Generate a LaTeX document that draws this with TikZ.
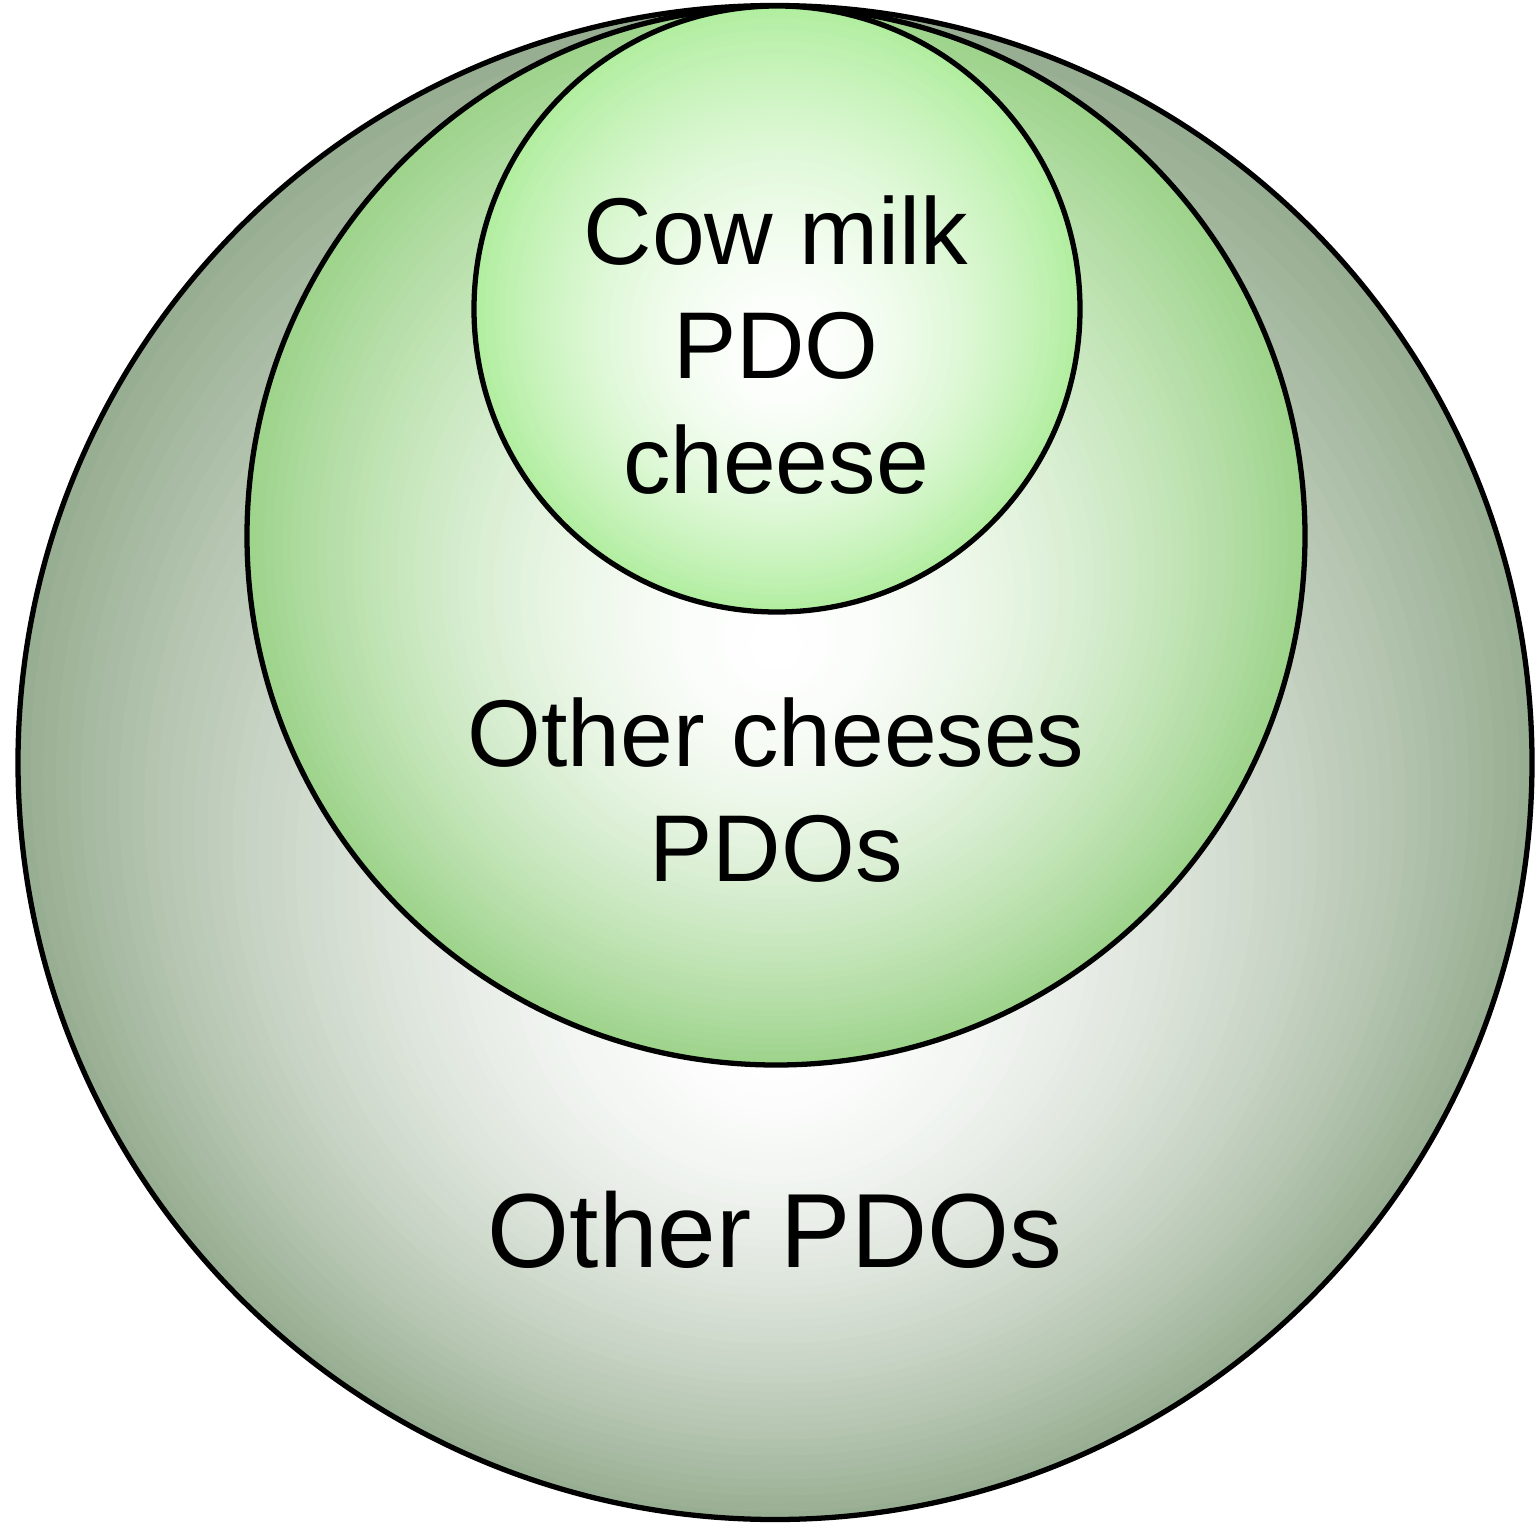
\documentclass[tikz,border=0pt]{standalone}
\usepackage{fontspec}
\setmainfont{Liberation Sans}
\usepackage{tikz}

\definecolor{outergreen}{RGB}{152,174,146}
\definecolor{midgreen}{RGB}{158,212,140}
\definecolor{innergreen}{RGB}{178,238,160}

% fill a circle with a gradient that is white at a focus point
% #1,#2 centre, #3 radius, #4,#5 focus, #6 colour at the rim
\newcommand{\focalfill}[6]{%
  \foreach \i in {60,...,1}{
    \pgfmathsetmacro{\ratio}{\i/60}
    \pgfmathsetmacro{\pct}{100*\ratio^1.7}
    \fill[#6!\pct!white] ({#4+\ratio*(#1-#4)},{#5+\ratio*(#2-#5)}) circle ({\ratio*#3});
  }}

\tikzset{
  ring/.style={draw=black, line width=1.5pt},
  venntext/.style={align=center, font=\fontsize{27}{32.5}\selectfont}
}

\begin{document}
\begin{tikzpicture}
    \useasboundingbox (0,0) rectangle (15.38,-15.24);

    % Other PDOs
    \focalfill{7.75}{-7.625}{7.57}{7.75}{-10.4}{outergreen}
    \draw[ring] (7.75,-7.625) circle (7.57);

    % Other cheeses PDOs
    \focalfill{7.76}{-5.36}{5.29}{7.76}{-6.5}{midgreen}
    \draw[ring] (7.76,-5.36) circle (5.29);

    % Cow milk PDO cheese
    \focalfill{7.77}{-3.09}{3.03}{7.85}{-3.6}{innergreen}
    \draw[ring] (7.77,-3.09) circle (3.03);

    \node[venntext] (cowtext) at (7.76,-3.45) {Cow milk\\PDO\\cheese};
    \node[venntext] (cheesetext) at (7.76,-7.9) {Other cheeses\\PDOs};
    \node[venntext, font=\fontsize{30}{35}\selectfont] (pdotext) at (7.75,-12.3) {Other PDOs};
\end{tikzpicture}
\end{document}
